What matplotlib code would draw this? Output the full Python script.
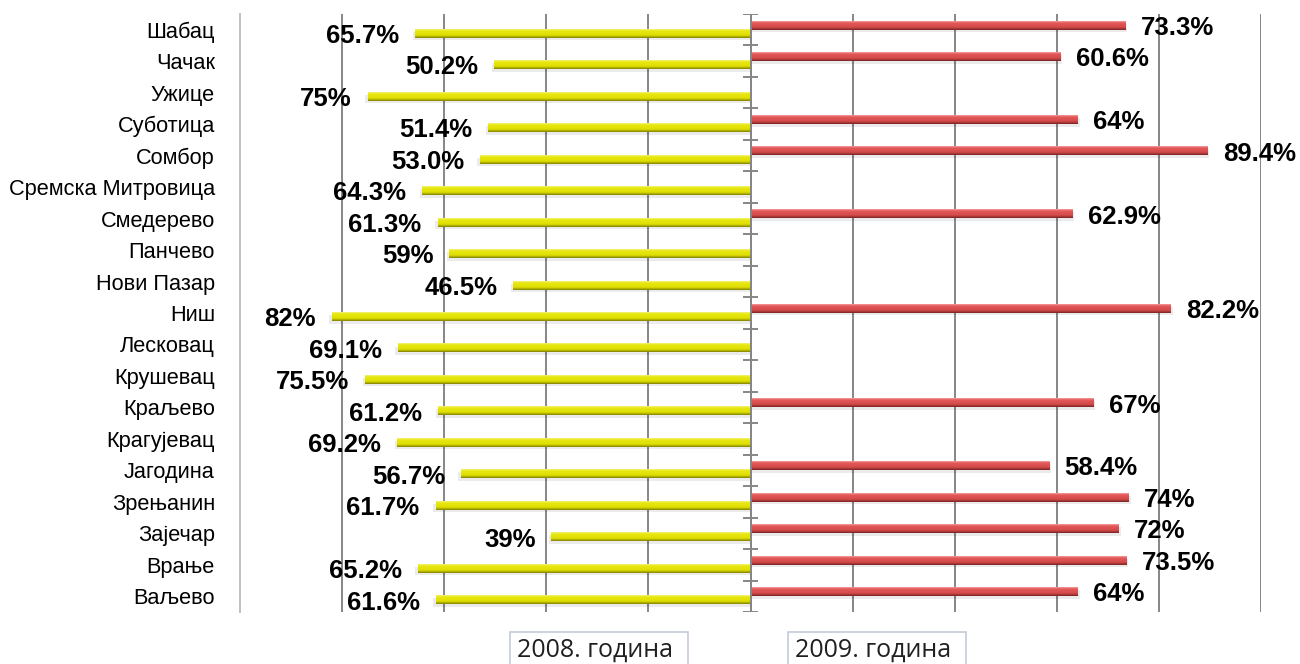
import numpy as np
import matplotlib
matplotlib.use("Agg")
import matplotlib.pyplot as plt
from matplotlib.patches import Rectangle

# data
cities = ["Шабац", "Чачак", "Ужице", "Суботица", "Сомбор", "Сремска Митровица",
          "Смедерево", "Панчево", "Нови Пазар", "Ниш", "Лесковац", "Крушевац",
          "Краљево", "Крагујевац", "Јагодина", "Зрењанин", "Зајечар", "Врање", "Ваљево"]
y2008 = [65.7, 50.2, 75, 51.4, 53.0, 64.3, 61.3, 59, 46.5, 82, 69.1, 75.5,
         61.2, 69.2, 56.7, 61.7, 39, 65.2, 61.6]
labels2008 = ["65.7%", "50.2%", "75%", "51.4%", "53.0%", "64.3%", "61.3%", "59%", "46.5%",
              "82%", "69.1%", "75.5%", "61.2%", "69.2%", "56.7%", "61.7%", "39%", "65.2%", "61.6%"]
y2009 = [73.3, 60.6, None, 64, 89.4, None, 62.9, None, None, 82.2, None, None,
         67, None, 58.4, 74, 72, 73.5, 64]
labels2009 = ["73.3%", "60.6%", "", "64%", "89.4%", "", "62.9%", "", "", "82.2%", "", "",
              "67%", "", "58.4%", "74%", "72%", "73.5%", "64%"]
legend_labels = ["2008. година", "2009. година"]

YELLOW = ["#f2f27a", "#e8e812", "#dede00", "#808000"]
RED = ["#f4a0a0", "#e45858", "#d24a4a", "#7a2222"]


def gradient(stops, n=40):
    rgb = np.array([matplotlib.colors.to_rgb(c) for c in stops])
    t = np.linspace(0, 1, n)
    pos = np.array([0.0, 0.2, 0.7, 1.0])
    g = np.stack([np.interp(t, pos, rgb[:, k]) for k in range(3)], axis=-1)
    return g[:, None, :]


def shade(ax, bars, stops):
    g = gradient(stops)
    for b in bars:
        x0, x1 = sorted([b.get_x(), b.get_x() + b.get_width()])
        y0 = b.get_y()
        y1 = y0 + b.get_height()
        ax.imshow(g, extent=(x0, x1, y1, y0), aspect="auto", zorder=4,
                  interpolation="bilinear")
        b.set_facecolor("none")
        b.set_edgecolor("none")


fig = plt.figure(figsize=(13, 6.64), dpi=100)
ax = fig.add_axes([240 / 1300, 1 - 612 / 664, 1021 / 1300, 598 / 664])

idx = np.arange(len(cities))
h = 0.27
off_red, off_yel = -0.14, 0.12

v08 = -np.array(y2008, dtype=float)
has09 = [i for i, v in enumerate(y2009) if v is not None]
v09 = np.array([y2009[i] for i in has09], dtype=float)
pos09 = idx[has09] + off_red

# soft shadows
ax.barh(idx + off_yel + 0.08, v08 - 0.5, height=h, color="#000000", alpha=0.08, zorder=3)
ax.barh(pos09 + 0.08, v09 + 0.5, height=h, color="#000000", alpha=0.08, zorder=3)

b08 = ax.barh(idx + off_yel, v08, height=h, zorder=4)
b09 = ax.barh(pos09, v09, height=h, zorder=4)
shade(ax, b08, YELLOW)
shade(ax, b09, RED)

lab_font = dict(fontsize=18.5, fontweight="bold", family="Liberation Sans", color="black")
t08 = ax.bar_label(b08, labels=labels2008, padding=11.5, **lab_font)
t09 = ax.bar_label(b09, labels=[labels2009[i] for i in has09], padding=11.5, **lab_font)
for t in list(t08) + list(t09):
    t.set_zorder(6)
    t.set_va("center_baseline")

# central category axis with boundary ticks
ax.axvline(0, color="#868686", lw=1.4, zorder=5)
ax.hlines(np.arange(-0.5, len(cities), 1), -1.5, 1.5, color="#868686", lw=1.4, zorder=5)

ax.set_xlim(-100, 100)
ax.set_ylim(len(cities) - 0.5, -0.5)
ax.set_xticks(np.arange(-80, 101, 20))
ax.grid(axis="x", color="#868686", lw=1.4, zorder=0)
ax.set_axisbelow(True)
ax.tick_params(axis="x", length=0, labelbottom=False)
ax.set_yticks(idx, cities)
ax.tick_params(axis="y", length=0, pad=18)
for t in ax.get_yticklabels():
    t.set_family("Liberation Sans")
    t.set_fontsize(15.7)
for s in ["top", "right", "bottom"]:
    ax.spines[s].set_visible(False)
ax.spines["left"].set_color("#c0c0c0")
ax.spines["left"].set_linewidth(1.4)

# legend boxes (no markers, as in the reference)
for lbl, x in zip(legend_labels, [510, 788]):
    fig.patches.append(Rectangle((x / 1300, -0.05), 178 / 1300, 0.05 + 32 / 664,
                                 transform=fig.transFigure, facecolor="white",
                                 edgecolor="#c3cbdc", lw=1.2))
    fig.text((x + 7) / 1300, 14 / 664, lbl, fontsize=18, family=["Open Sans", "DejaVu Sans"],
             color="#202020", va="center", ha="left")

fig.savefig("out.png", dpi=100)
